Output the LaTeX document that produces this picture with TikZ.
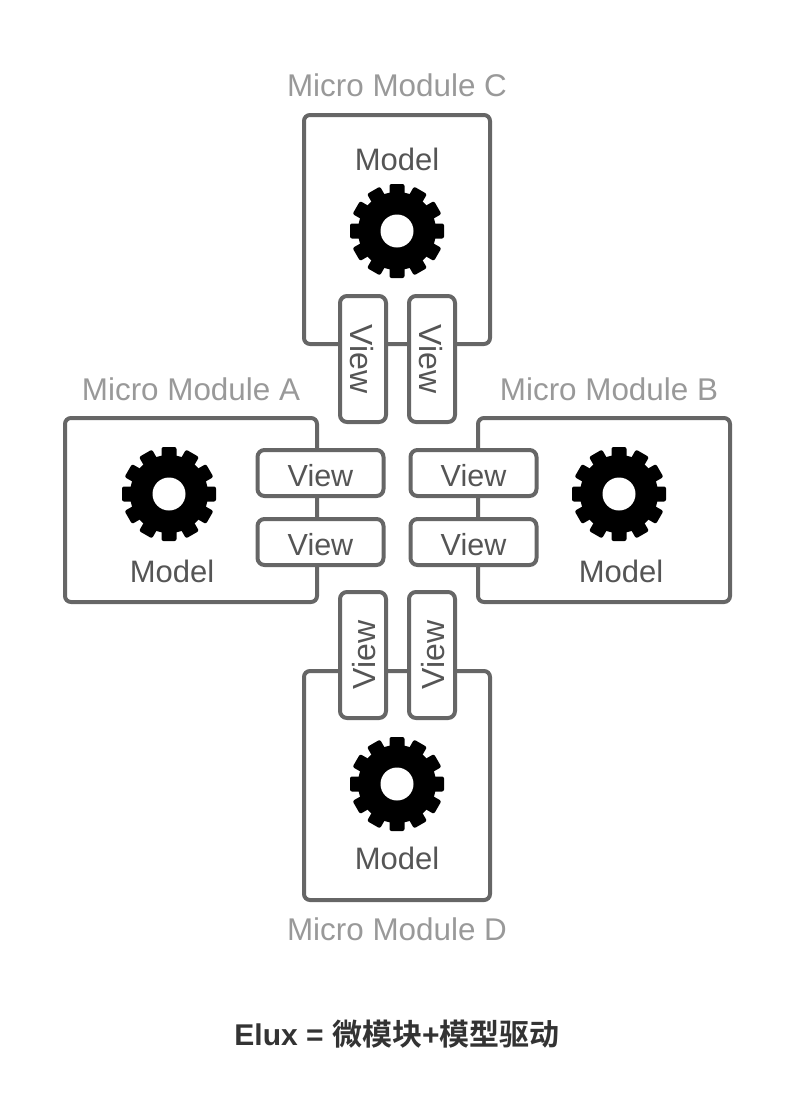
\documentclass[tikz,border=0pt]{standalone}
\usepackage{fontspec}
\setmainfont{Liberation Sans}
\newfontfamily\cjk{Noto Sans CJK SC}[BoldFont={* Bold}]
\definecolor{edge}{HTML}{666666}
\definecolor{lbl}{HTML}{999999}
\definecolor{txt}{HTML}{555555}
\tikzset{
  module/.style = {draw=edge, line width=4pt, rounded corners=6pt, fill=white, minimum width=#1},
  view/.style = {draw=edge, line width=4pt, rounded corners=7pt, fill=white, text=txt, font=\fontsize{30.5}{30}\selectfont, inner sep=0pt, minimum width=126pt, minimum height=46pt, text height=27pt, text depth=0pt},
  vview/.style = {view, font=\fontsize{32}{32}\selectfont, text height=24.5pt},
  title/.style = {text=lbl, font=\fontsize{31.4}{31}\selectfont, inner sep=0pt},
  model/.style = {text=txt, font=\fontsize{31}{31}\selectfont, inner sep=0pt},
  gear/.pic = {
    \fill[black] (0,0) circle (39pt);
    \foreach \a in {0,30,...,330}
      \fill[black, rotate=\a, rounded corners=2pt] (-7.5pt,30pt) rectangle (7.5pt,47pt);
    \fill[white] (0,0) circle (16.5pt);
  }
}
\begin{document}
\begin{tikzpicture}[x=1pt, y=-1pt]
  \useasboundingbox (0,0) rectangle (800,1119);
  \node[module=186pt, minimum height=229pt] (c) at (397,229.5) {};
  \node[module=252pt, minimum height=184pt] (a) at (191,510) {};
  \node[module=252pt, minimum height=184pt] (b) at (604,510) {};
  \node[module=186pt, minimum height=229pt] (d) at (397,785.5) {};

  \node[title] (ct) at (397,85) {Micro Module C};
  \node[title] (at) at (191,389) {Micro Module A};
  \node[title] (bt) at (609,389) {Micro Module B};
  \node[title] (dt) at (397,929) {Micro Module D};

  \node[model] (cm) at (397,159) {Model};
  \node[model] (am) at (172,571) {Model};
  \node[model] (bm) at (621,571) {Model};
  \node[model] (dm) at (397,858) {Model};

  \pic (cg) at (397,231) {gear};
  \pic (ag) at (169,494) {gear};
  \pic (bg) at (619,494) {gear};
  \pic (dg) at (397,784) {gear};

  \node[vview, rotate=-90] (cv1) at (363,359) {View};
  \node[vview, rotate=-90] (cv2) at (432,359) {View};
  \node[view] (av1) at (320.5,473) {View};
  \node[view] (av2) at (320.5,542) {View};
  \node[view] (bv1) at (473.5,473) {View};
  \node[view] (bv2) at (473.5,542) {View};
  \node[vview, rotate=90] (dv1) at (363,655) {View};
  \node[vview, rotate=90] (dv2) at (432,655) {View};

  \node[inner sep=0pt, text=black!80, font=\fontsize{30}{30}\selectfont\bfseries] (cap) at (397,1034) {Elux = {\cjk 微模块}+{\cjk 模型驱动}};
\end{tikzpicture}
\end{document}
